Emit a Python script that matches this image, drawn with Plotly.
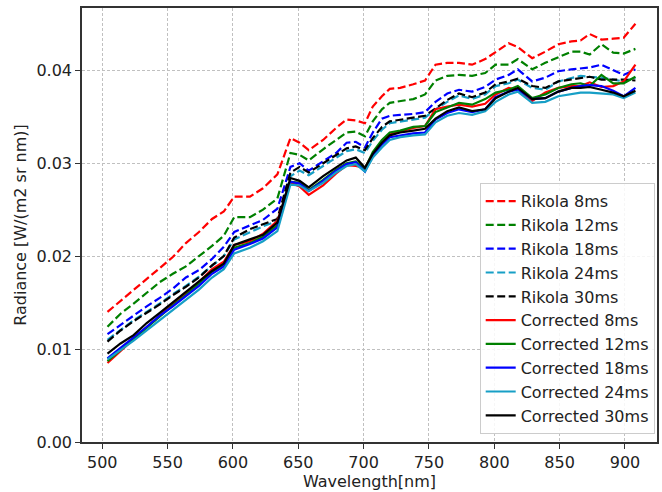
import plotly.graph_objects as go

wavelength = [504, 514, 524, 534, 544, 554, 564, 574, 584, 593, 601, 613, 623, 634, 644, 651, 658, 669, 679, 687,
              694, 701, 707, 714, 720, 728, 738, 747, 755, 764, 773, 783, 793, 801, 811, 818, 829, 839, 849, 859,
              866, 873, 882, 891, 899, 908]

rikola_8 = [0.0140, 0.0152, 0.0164, 0.0175, 0.0187, 0.0199, 0.0214, 0.0226, 0.0240, 0.0248, 0.0264, 0.0264, 0.0273,
            0.0288, 0.0327, 0.0322, 0.0314, 0.0325, 0.0338, 0.0347, 0.0346, 0.0343, 0.0361, 0.0372, 0.0380, 0.0381,
            0.0385, 0.0389, 0.0406, 0.0408, 0.0408, 0.0406, 0.0412, 0.0420, 0.0429, 0.0425, 0.0413, 0.0420, 0.0428,
            0.0431, 0.0432, 0.0439, 0.0433, 0.0434, 0.0435, 0.0450]
rikola_12 = [0.0124, 0.0138, 0.0149, 0.0160, 0.0172, 0.0181, 0.0189, 0.0200, 0.0211, 0.0222, 0.0242, 0.0242, 0.0250,
             0.0262, 0.0311, 0.0309, 0.0303, 0.0315, 0.0325, 0.0333, 0.0334, 0.0329, 0.0345, 0.0358, 0.0365, 0.0367,
             0.0369, 0.0374, 0.0389, 0.0394, 0.0395, 0.0394, 0.0397, 0.0406, 0.0406, 0.0412, 0.0401, 0.0408, 0.0414,
             0.0420, 0.0420, 0.0417, 0.0428, 0.0419, 0.0418, 0.0423]
rikola_18 = [0.0116, 0.0126, 0.0136, 0.0146, 0.0155, 0.0165, 0.0177, 0.0185, 0.0197, 0.0210, 0.0226, 0.0233, 0.0239,
             0.0251, 0.0296, 0.0300, 0.0292, 0.0302, 0.0311, 0.0322, 0.0323, 0.0317, 0.0333, 0.0348, 0.0351, 0.0352,
             0.0353, 0.0355, 0.0366, 0.0375, 0.0379, 0.0377, 0.0382, 0.0390, 0.0395, 0.0401, 0.0388, 0.0392, 0.0399,
             0.0401, 0.0402, 0.0403, 0.0406, 0.0400, 0.0395, 0.0401]
rikola_24 = [0.0110, 0.0121, 0.0131, 0.0140, 0.0149, 0.0159, 0.0168, 0.0178, 0.0190, 0.0200, 0.0218, 0.0226, 0.0232,
             0.0238, 0.0286, 0.0292, 0.0287, 0.0297, 0.0306, 0.0313, 0.0315, 0.0311, 0.0324, 0.0336, 0.0343, 0.0345,
             0.0347, 0.0349, 0.0358, 0.0366, 0.0373, 0.0369, 0.0374, 0.0383, 0.0386, 0.0390, 0.0381, 0.0379, 0.0388,
             0.0392, 0.0394, 0.0393, 0.0392, 0.0390, 0.0388, 0.0392]
rikola_30 = [0.0108, 0.0120, 0.0130, 0.0139, 0.0148, 0.0158, 0.0167, 0.0177, 0.0190, 0.0200, 0.0220, 0.0229, 0.0234,
             0.0240, 0.0290, 0.0296, 0.0290, 0.0300, 0.0309, 0.0316, 0.0318, 0.0314, 0.0327, 0.0339, 0.0345, 0.0347,
             0.0349, 0.0351, 0.0359, 0.0368, 0.0375, 0.0371, 0.0376, 0.0385, 0.0388, 0.0391, 0.0383, 0.0381, 0.0388,
             0.0390, 0.0392, 0.0393, 0.0390, 0.0390, 0.0390, 0.0389]
corrected_8 = [0.0085, 0.0098, 0.0110, 0.0124, 0.0137, 0.0149, 0.0160, 0.0172, 0.0186, 0.0194, 0.0212, 0.0216, 0.0224,
               0.0238, 0.0279, 0.0275, 0.0266, 0.0276, 0.0289, 0.0298, 0.0297, 0.0295, 0.0310, 0.0322, 0.0331, 0.0334,
               0.0338, 0.0340, 0.0358, 0.0361, 0.0363, 0.0361, 0.0364, 0.0374, 0.0381, 0.0379, 0.0367, 0.0376, 0.0381,
               0.0383, 0.0383, 0.0387, 0.0382, 0.0383, 0.0388, 0.0406]
corrected_12 = [0.0087, 0.0099, 0.0111, 0.0124, 0.0136, 0.0147, 0.0158, 0.0170, 0.0183, 0.0191, 0.0209, 0.0214, 0.0221,
                0.0233, 0.0280, 0.0279, 0.0271, 0.0282, 0.0293, 0.0300, 0.0302, 0.0294, 0.0312, 0.0325, 0.0333, 0.0335,
                0.0339, 0.0340, 0.0355, 0.0360, 0.0365, 0.0363, 0.0369, 0.0376, 0.0379, 0.0383, 0.0370, 0.0374, 0.0381,
                0.0385, 0.0386, 0.0383, 0.0395, 0.0386, 0.0386, 0.0393]
corrected_18 = [0.0090, 0.0101, 0.0112, 0.0124, 0.0136, 0.0146, 0.0157, 0.0168, 0.0181, 0.0189, 0.0207, 0.0213, 0.0219,
                0.0231, 0.0280, 0.0278, 0.0270, 0.0281, 0.0292, 0.0299, 0.0301, 0.0291, 0.0308, 0.0320, 0.0328, 0.0330,
                0.0332, 0.0333, 0.0347, 0.0354, 0.0358, 0.0355, 0.0358, 0.0371, 0.0377, 0.0379, 0.0369, 0.0370, 0.0377,
                0.0381, 0.0383, 0.0384, 0.0383, 0.0378, 0.0372, 0.0381]
corrected_24 = [0.0089, 0.0099, 0.0109, 0.0120, 0.0131, 0.0142, 0.0153, 0.0164, 0.0177, 0.0186, 0.0203, 0.0209, 0.0216,
                0.0227, 0.0277, 0.0276, 0.0270, 0.0279, 0.0290, 0.0297, 0.0299, 0.0291, 0.0306, 0.0317, 0.0325, 0.0328,
                0.0330, 0.0331, 0.0344, 0.0351, 0.0354, 0.0352, 0.0356, 0.0366, 0.0374, 0.0377, 0.0365, 0.0366, 0.0372,
                0.0374, 0.0376, 0.0376, 0.0375, 0.0374, 0.0370, 0.0376]
corrected_30 = [0.0095, 0.0106, 0.0115, 0.0128, 0.0139, 0.0150, 0.0161, 0.0172, 0.0184, 0.0192, 0.0212, 0.0218, 0.0223,
                0.0236, 0.0284, 0.0281, 0.0274, 0.0286, 0.0296, 0.0303, 0.0306, 0.0295, 0.0310, 0.0322, 0.0330, 0.0333,
                0.0335, 0.0337, 0.0348, 0.0356, 0.0360, 0.0356, 0.0358, 0.0370, 0.0377, 0.0381, 0.0369, 0.0370, 0.0377,
                0.0381, 0.0381, 0.0382, 0.0379, 0.0376, 0.0372, 0.0378]

x_ticks = [500, 550, 600, 650, 700, 750, 800, 850, 900]
y_ticks = [0.00, 0.01, 0.02, 0.03, 0.04]

series = [
    ("Rikola 8ms", rikola_8, "#ff0000", "8px,3.5px"),
    ("Rikola 12ms", rikola_12, "#008000", "8px,3.5px"),
    ("Rikola 18ms", rikola_18, "#0000ff", "8px,3.5px"),
    ("Rikola 24ms", rikola_24, "#179fc6", "8px,3.5px"),
    ("Rikola 30ms", rikola_30, "#000000", "8px,3.5px"),
    ("Corrected 8ms", corrected_8, "#ff0000", "solid"),
    ("Corrected 12ms", corrected_12, "#008000", "solid"),
    ("Corrected 18ms", corrected_18, "#0000ff", "solid"),
    ("Corrected 24ms", corrected_24, "#179fc6", "solid"),
    ("Corrected 30ms", corrected_30, "#000000", "solid"),
]

fig = go.Figure()
for name, vals, color, dash in series:
    fig.add_trace(go.Scatter(
        x=wavelength, y=vals, mode="lines", name=name,
        line=dict(color=color, width=2.2, dash=dash),
    ))

font = "DejaVu Sans, sans-serif"
axis_common = dict(
    showline=True, linecolor="#333333", linewidth=1.6, mirror=True,
    ticks="outside", ticklen=5, tickcolor="#333333", tickwidth=1.3,
    showgrid=True, gridcolor="#c0c0c0", griddash="3px,2px", gridwidth=1,
    zeroline=False, tickfont=dict(family=font, size=16, color="#222222"),
)

fig.update_layout(
    width=662, height=492,
    margin=dict(l=82, r=3, t=8, b=50),
    paper_bgcolor="white", plot_bgcolor="white",
    font=dict(family=font, size=16, color="#222222"),
    xaxis=dict(range=[484.5, 924.5], tickvals=x_ticks,
               title=dict(text="Wavelength[nm]", font=dict(family=font, size=16), standoff=4),
               **axis_common),
    yaxis=dict(range=[0, 0.0467], tickvals=y_ticks, tickformat=".2f",
               title=dict(text="Radiance [W/(m2 sr nm)]", font=dict(family=font, size=16), standoff=6),
               **axis_common),
    legend=dict(x=0.996, y=0.018, xanchor="right", yanchor="bottom",
                bgcolor="rgba(255,255,255,0.85)", bordercolor="#cccccc", borderwidth=1,
                font=dict(family=font, size=16, color="#222222"),
                itemwidth=30),
    showlegend=True,
)

fig.write_html("out.html")
